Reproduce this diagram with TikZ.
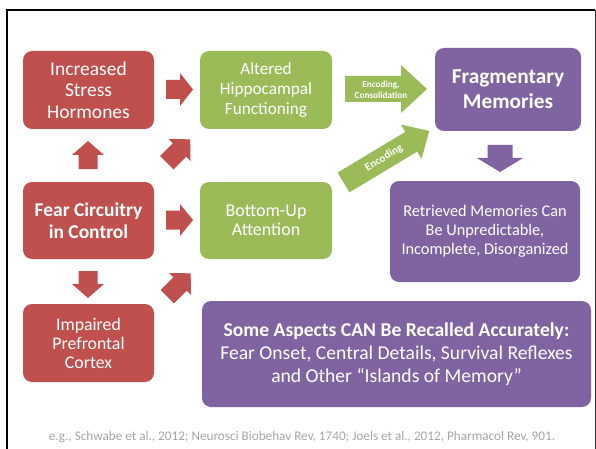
\documentclass[tikz,border=0pt]{standalone}
\usepackage{fontspec}
\setmainfont{Carlito}
\usetikzlibrary{calc}
\definecolor{cred}{HTML}{C0504D}
\definecolor{cgreen}{HTML}{9BBB59}
\definecolor{cpurple}{HTML}{8064A2}
\definecolor{cfoot}{HTML}{A6A6A6}
\newcommand\blockarrow[7]{%
  \begin{scope}[shift={#1}, rotate=#2]
    \fill[#7] (-#3/2,-#5/2) -- (#3/2-#6,-#5/2) -- (#3/2-#6,-#4/2) -- (#3/2,0)
      -- (#3/2-#6,#4/2) -- (#3/2-#6,#5/2) -- (-#3/2,#5/2) -- cycle;
  \end{scope}}
\tikzset{
  box/.style={rounded corners=9pt, text=white, align=center, inner sep=0pt, outer sep=0pt},
  redbox/.style={box, fill=cred, minimum width=131pt, minimum height=78pt},
  greenbox/.style={box, fill=cgreen, minimum width=132pt, minimum height=78pt},
  purplebox/.style={box, fill=cpurple},
  arrowlabel/.style={text=white, font=\bfseries\fontsize{9.2}{10.5}\selectfont, align=center, inner sep=0pt}
}
\begin{document}
\begin{tikzpicture}[x=1pt,y=-1pt]
\useasboundingbox (0,0) rectangle (596,449);
\fill[white] (0,0) rectangle (596,449);
% frame
\draw[black, line width=2pt] (7,449) -- (7,10) -- (595,10);
\draw[black!80, line width=1pt] (595,10) -- (595,449);

% boxes
\node[redbox, font=\fontsize{19.5}{21.5}\selectfont] (stress) at (88.5,90) {Increased\\Stress\\Hormones};
\node[redbox, minimum height=77pt, font=\bfseries\fontsize{19.5}{22}\selectfont] (fear) at (88.5,220.5) {Fear Circuitry\\in Control};
\node[redbox, font=\fontsize{17.8}{19}\selectfont] (pfc) at (88.5,343) {Impaired\\Prefrontal\\Cortex};
\node[greenbox, font=\fontsize{17.2}{20}\selectfont] (hippo) at (266,90) {Altered\\Hippocampal\\Functioning};
\node[greenbox, minimum height=77pt, font=\fontsize{18}{18.5}\selectfont] (bottom) at (266,220.5) {Bottom-Up\\Attention};
\node[purplebox, minimum width=146pt, minimum height=83pt, font=\bfseries\fontsize{21.3}{25}\selectfont] (frag) at (508,89.5) {Fragmentary\\Memories};
\node[purplebox, minimum width=190pt, minimum height=101pt, font=\fontsize{16.3}{19}\selectfont] (retr) at (485,231.5) {Retrieved Memories Can\\Be Unpredictable,\\Incomplete, Disorganized};
\node[purplebox, minimum width=389pt, minimum height=106pt, font=\fontsize{19.6}{23}\selectfont] (some) at (396.5,354) {\textbf{Some Aspects CAN Be Recalled Accurately:}\\Fear Onset, Central Details, Survival Reflexes\\and Other “Islands of Memory”};

% block arrows
\blockarrow{(88,155)}{90}{28}{32}{19}{14}{cred}
\blockarrow{(88,284.5)}{-90}{27}{32}{19}{14}{cred}
\blockarrow{(179.5,89.5)}{0}{27}{33}{19}{13}{cred}
\blockarrow{(179.5,220)}{0}{27}{32}{19}{13}{cred}
\blockarrow{(178.5,151)}{45}{33}{31}{19}{15}{cred}
\blockarrow{(179,285)}{45}{33}{31}{19}{15}{cred}
\blockarrow{(500,158.5)}{-90}{27}{46}{25}{14}{cpurple}
\blockarrow{(386,89)}{0}{82}{48}{26}{26}{cgreen}
\blockarrow{(386.4,156.7)}{31}{100}{40}{23}{21}{cgreen}

\node[arrowlabel] (enc1) at (381,90) {Encoding,\\Consolidation};
\node[arrowlabel, font=\bfseries\fontsize{11}{12}\selectfont, rotate=31] (enc2) at (384,158) {Encoding};

% footer
\node[text=cfoot, font=\fontsize{13.2}{15}\selectfont, inner sep=0pt] (foot) at (302,437) {e.g., Schwabe et al., 2012; Neurosci Biobehav Rev, 1740; Joels et al., 2012, Pharmacol Rev, 901.};
\end{tikzpicture}
\end{document}
